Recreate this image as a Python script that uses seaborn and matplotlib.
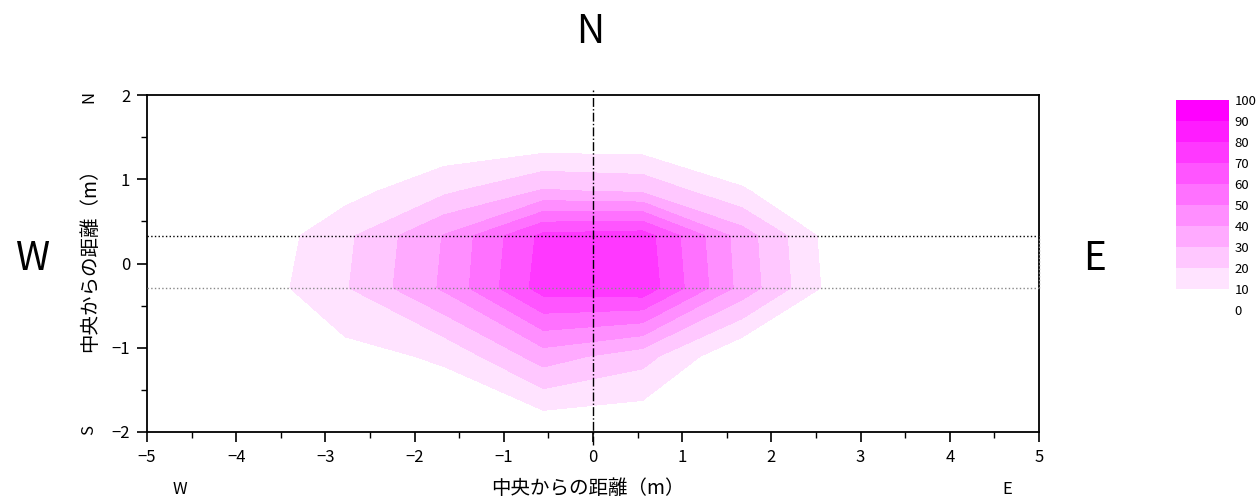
import numpy as np
import matplotlib
matplotlib.use("Agg")
import matplotlib.pyplot as plt
from matplotlib.ticker import MultipleLocator
import seaborn as sns

# ---- data ----
x_cols = [-5.0, -3.889, -2.778, -1.667, -0.556, 0.556, 1.667, 2.778, 3.889, 5.0]
y_rows = [-2.0, -1.1, -0.29, 0.33, 0.86, 1.52, 2.0]
z_row_m200 = [0, 0, 0, 0, 0, 0, 0, 0, 0, 0]
z_row_m110 = [0, 0, 6.4, 11.6, 35.0, 24.0, 0, 0, 0, 0]
z_row_m029 = [0, 2.8, 19.1, 41.7, 74.7, 77.1, 36.5, 3.3, 0, 0]
z_row_p033 = [0, 0.8, 17.7, 40.6, 72.7, 75.0, 35.3, 2.0, 0, 0]
z_row_p086 = [0, 0, 6.1, 18.0, 31.0, 28.5, 11.0, 0, 0, 0]
z_row_p152 = [0, 0, 0, 0, 0, 0, 0, 0, 0, 0]
z_row_p200 = [0, 0, 0, 0, 0, 0, 0, 0, 0, 0]
levels = [0, 10, 20, 30, 40, 50, 60, 70, 80, 90, 100]
x_ticks = [-5, -4, -3, -2, -1, 0, 1, 2, 3, 4, 5]
y_ticks = [-2, -1, 0, 1, 2]
band_top = 0.33
band_bottom = -0.29
label_text = "中央からの距離（m）"

sns.set_theme(style="ticks")
plt.rcParams["font.family"] = ["Noto Sans CJK JP", "DejaVu Sans"]
plt.rcParams["axes.unicode_minus"] = True
for key in ["text.color", "axes.labelcolor", "xtick.color", "ytick.color",
            "axes.edgecolor"]:
    plt.rcParams[key] = "black"

W, H = 1256, 501
fig = plt.figure(figsize=(W / 100, H / 100), dpi=100)


def fx(px):
    return px / W


def fy(py):
    return 1 - py / H


ax = fig.add_axes([fx(147), fy(432), fx(1039) - fx(147), fy(95) - fy(432)])

X, Y = np.meshgrid(x_cols, y_rows)
Z = np.array([z_row_m200, z_row_m110, z_row_m029, z_row_p033,
              z_row_p086, z_row_p152, z_row_p200])
colors = sns.blend_palette(["#ffffff", "#ff00ff"], 10)
cs = ax.contourf(X, Y, Z, levels=levels, colors=colors)

ax.set_xlim(-5, 5)
ax.set_ylim(-2, 2)
ax.set_xticks(x_ticks)
ax.set_yticks(y_ticks)
ax.xaxis.set_minor_locator(MultipleLocator(0.5))
ax.yaxis.set_minor_locator(MultipleLocator(0.5))
ax.tick_params(which="major", direction="out", length=7, width=1.2,
               labelsize=12, pad=5, colors="black", top=False, right=False)
ax.tick_params(which="minor", direction="out", length=4, width=1.0,
               colors="black", top=False, right=False)
for s in ax.spines.values():
    s.set_color("black")
    s.set_linewidth(1.3)

# reference lines
ax.plot([0, 0], [-2.15, 2.06], color="black", linestyle="-.", lw=1.0,
        clip_on=False, zorder=5)
ax.plot([-5, 5], [band_top, band_top], color="black", linestyle=":", lw=1.0, zorder=5)
ax.plot([-5, 5], [band_bottom, band_bottom], color="#888888", linestyle=":", lw=1.0, zorder=5)
ax.plot([5, 5], [band_bottom, band_top], color="#888888", linestyle=":", lw=1.0,
        clip_on=False, zorder=5)

# axis labels
fig.text(fx(588), fy(489), label_text, ha="center", va="center", fontsize=14)
fig.text(fx(90), fy(255), label_text, ha="center", va="center", fontsize=14,
         rotation=90)
fig.text(fx(180), fy(489), "W", ha="center", va="center", fontsize=12)
fig.text(fx(1007), fy(489), "E", ha="center", va="center", fontsize=12)
fig.text(fx(89), fy(97), "N", ha="center", va="center", fontsize=12, rotation=90)
fig.text(fx(89), fy(430), "S", ha="center", va="center", fontsize=12, rotation=90)

# compass letters
fig.text(fx(590), fy(32), "N", ha="center", va="center", fontsize=28)
fig.text(fx(33), fy(259), "W", ha="center", va="center", fontsize=28)
fig.text(fx(1095), fy(259), "E", ha="center", va="center", fontsize=28)

# colorbar
cax = fig.add_axes([fx(1176), fy(310), fx(1229) - fx(1176), fy(100) - fy(310)])
cb = fig.colorbar(cs, cax=cax, ticks=levels)
cb.outline.set_visible(False)
cax.tick_params(length=0, labelsize=9.5, pad=4, colors="black")

fig.savefig("out.png", dpi=100)
